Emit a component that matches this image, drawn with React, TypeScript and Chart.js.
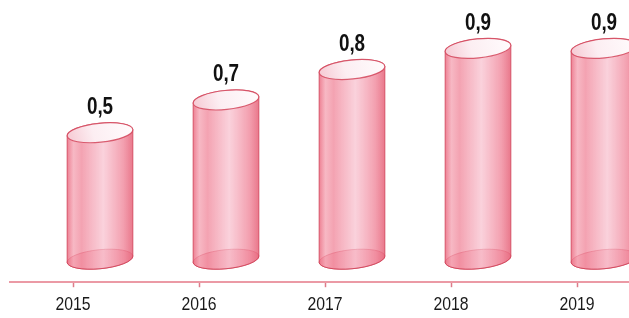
import React, { useEffect, useRef } from "react";
import { Chart, registerables } from "chart.js";

Chart.register(...registerables);

const categories: string[] = ["2015", "2016", "2017", "2018", "2019"];
const values: number[] = [0.54, 0.68, 0.81, 0.9, 0.9];

const FONT = "'Liberation Sans Narrow', 'Arial Narrow', 'Liberation Sans', sans-serif";

function condensedText(ctx: any, text: string, x: number, y: number, font: string, color: string, sx: number) {
  ctx.save();
  ctx.font = font;
  ctx.fillStyle = color;
  ctx.textAlign = "center";
  ctx.textBaseline = "middle";
  ctx.translate(x, y);
  ctx.scale(sx, 1);
  ctx.fillText(text, 0, 0);
  ctx.restore();
}

const cylinderPlugin = {
  id: "cylinders",
  afterDraw(chart: any) {
    const { ctx, scales } = chart;
    const x = scales.x;
    const y = scales.y;
    const dx = 27;
    const dy = 23;
    const rx = 33;
    const ry = 9.5;
    const th = -0.1;
    const t0 = Math.atan2(-ry * Math.sin(th), rx * Math.cos(th));
    ctx.save();
    values.forEach((v, i) => {
      const cx = x.getPixelForValue(i) + dx;
      const by = y.getPixelForValue(0) - dy;
      const ty = y.getPixelForValue(v) - dy;

      // bottom ellipse
      ctx.beginPath();
      ctx.ellipse(cx, by, rx, ry, th, 0, Math.PI * 2);
      ctx.fillStyle = "rgba(236,112,132,0.55)";
      ctx.fill();
      ctx.strokeStyle = "rgba(205,60,82,0.75)";
      ctx.lineWidth = 1;
      ctx.stroke();

      // body
      ctx.beginPath();
      ctx.ellipse(cx, ty, rx, ry, th, t0 + Math.PI, t0 + 2 * Math.PI, false);
      ctx.ellipse(cx, by, rx, ry, th, t0, t0 + Math.PI, false);
      ctx.closePath();
      const g = ctx.createLinearGradient(cx - rx, 0, cx + rx, 0);
      g.addColorStop(0, "rgba(234,104,126,0.85)");
      g.addColorStop(0.1, "rgba(244,160,176,0.75)");
      g.addColorStop(0.22, "rgba(240,132,152,0.75)");
      g.addColorStop(0.55, "rgba(248,192,206,0.72)");
      g.addColorStop(0.85, "rgba(240,134,154,0.78)");
      g.addColorStop(1, "rgba(230,100,122,0.88)");
      ctx.fillStyle = g;
      ctx.fill();
      ctx.strokeStyle = "rgba(208,64,86,0.8)";
      ctx.lineWidth = 1;
      ctx.stroke();

      // top ellipse
      ctx.beginPath();
      ctx.ellipse(cx, ty, rx, ry, th, 0, Math.PI * 2);
      const tg = ctx.createLinearGradient(cx - rx, ty + ry, cx + rx, ty - ry);
      tg.addColorStop(0, "rgba(246,200,210,1)");
      tg.addColorStop(0.4, "rgba(252,238,242,1)");
      tg.addColorStop(1, "rgba(255,252,253,1)");
      ctx.fillStyle = tg;
      ctx.fill();
      ctx.strokeStyle = "rgba(212,70,92,0.85)";
      ctx.lineWidth = 1.2;
      ctx.stroke();

      // value label
      condensedText(ctx, v.toFixed(1).replace(".", ","), cx, ty - 25, "bold 23px " + FONT, "#111", 0.82);
    });
    // category labels
    categories.forEach((c, i) => {
      condensedText(ctx, c, x.getPixelForValue(i), 305, "19px " + FONT, "#1a1a1a", 0.83);
    });
    ctx.restore();
  },
};

export default function App() {
  const ref = useRef<HTMLCanvasElement>(null);
  useEffect(() => {
    if (!ref.current) return;
    const chart = new Chart(ref.current, {
      type: "bar",
      data: {
        labels: categories,
        datasets: [
          {
            data: values,
            backgroundColor: "rgba(0,0,0,0)",
            borderWidth: 0,
          },
        ],
      },
      options: {
        animation: false,
        responsive: false,
        layout: { padding: { left: 10, right: 10, top: 48, bottom: 0 } },
        plugins: { legend: { display: false }, tooltip: { enabled: false } },
        scales: {
          x: {
            offset: true,
            grid: {
              offset: false,
              drawOnChartArea: false,
              drawTicks: true,
              tickLength: 5,
              tickColor: "rgba(214,90,108,0.8)",
              tickWidth: 1.5,
            },
            border: { display: true, color: "rgba(228,120,135,0.75)", width: 2 },
            ticks: {
              color: "rgba(0,0,0,0)",
              padding: 4,
              font: { family: FONT, size: 19 },
              maxRotation: 0,
            },
          },
          y: {
            display: false,
            min: 0,
            max: 1,
          },
        },
      },
      plugins: [cylinderPlugin],
    });
    return () => chart.destroy();
  }, []);
  return (
    <div
      style={{
        position: "fixed",
        left: 0,
        top: 0,
        width: 629,
        height: 318,
        overflow: "hidden",
        background: "#fff",
      }}
    >
      <canvas ref={ref} width={650} height={318} style={{ width: 650, height: 318, display: "block" }} />
    </div>
  );
}
